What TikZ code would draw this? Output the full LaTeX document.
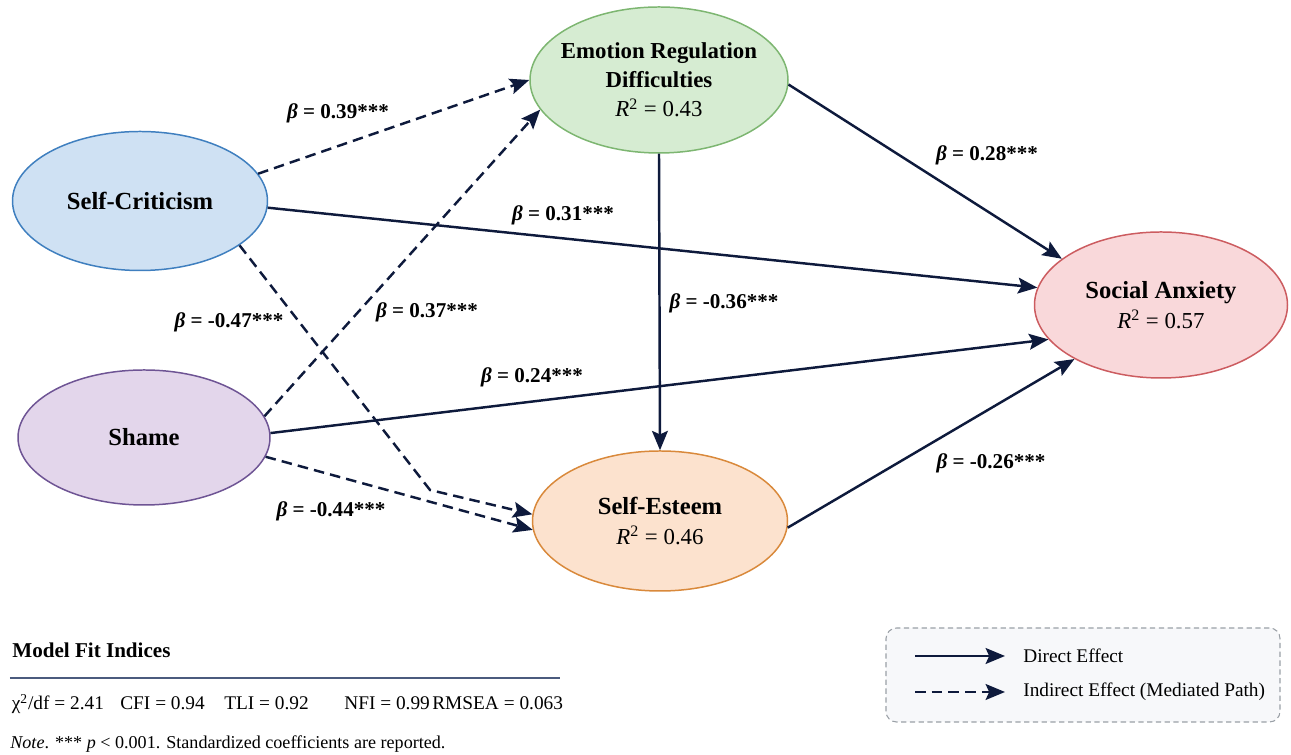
\documentclass[tikz,border=0pt]{standalone}
\usepackage{fontspec}
\setmainfont{Liberation Serif}
\usetikzlibrary{arrows.meta,shapes.geometric,positioning}
\definecolor{pathnavy}{HTML}{0E1A3C}
\definecolor{critfill}{HTML}{CFE1F3}
\definecolor{critline}{HTML}{3F7FBF}
\definecolor{shamefill}{HTML}{E3D6EB}
\definecolor{shameline}{HTML}{6E5494}
\definecolor{erdfill}{HTML}{D6ECD2}
\definecolor{erdline}{HTML}{7DB671}
\definecolor{esteemfill}{HTML}{FCE2CE}
\definecolor{esteemline}{HTML}{D9893B}
\definecolor{anxfill}{HTML}{F9D8DA}
\definecolor{anxline}{HTML}{CC5C60}
\definecolor{rulegray}{HTML}{4B5B7E}
\definecolor{legendfill}{HTML}{F7F8FA}
\definecolor{legendline}{HTML}{9AA0A6}
\newcommand{\rsq}[1]{{\mdseries\fontsize{13}{16}\selectfont\textit{R}\textsuperscript{2} = #1}}

\begin{document}
\begin{tikzpicture}[
    latent/.style 2 args={
      ellipse, draw=#1, fill=#2, line width=0.85pt, inner xsep=-1cm, inner ysep=0pt,
      align=center, text=black, font=\fontsize{14}{17}\selectfont\bfseries,
    },
    direct/.style={-{Stealth[length=11pt,width=9pt,inset=2pt]}, line width=1.4pt, pathnavy},
    indirect/.style={direct, dash pattern=on 6pt off 3.5pt},
    coef/.style={font=\fontsize{12}{14}\selectfont\bfseries, text=black},
    legtext/.style={font=\fontsize{11}{13}\selectfont, inner sep=0pt, anchor=west},
    fittext/.style={font=\fontsize{11}{13}\selectfont, inner sep=0pt, anchor=base west},
  ]
  \useasboundingbox (0,0) rectangle (25.82,15.10);

  % =================== LATENT VARIABLES ===================
  \node[latent={critline}{critfill}, minimum width=5.10cm, minimum height=2.78cm] (crit) at (2.80,11.08) {Self-Criticism};
  \node[latent={shameline}{shamefill}, minimum width=5.04cm, minimum height=2.70cm] (shame) at (2.88,6.35) {Shame};
  \node[latent={erdline}{erdfill}, minimum width=5.16cm, minimum height=2.92cm,
        font=\fontsize{13}{16.5}\selectfont\bfseries] (erd) at (13.18,13.50)
    {Emotion Regulation\\Difficulties\\\rsq{0.43}};
  \node[latent={esteemline}{esteemfill}, minimum width=5.10cm, minimum height=2.80cm] (esteem) at (13.20,4.68)
    {Self-Esteem\\\rsq{0.46}};
  \node[latent={anxline}{anxfill}, minimum width=5.06cm, minimum height=2.92cm] (anx) at (23.22,9.00)
    {Social Anxiety\\\rsq{0.57}};

  % =================== PATHS ===================
  \draw[indirect] (crit.13) -- (erd.180);
  \draw[direct] (crit.-3) -- (anx.172);
  \coordinate (critbend) at (8.60,5.30);
  \draw[indirect] (crit.-24) -- (critbend) -- (esteem.177);
  \draw[indirect] (shame.10) -- (erd.194);
  \draw[direct] (shame.2) -- (anx.197);
  \draw[indirect] (shame.-9) -- (esteem.184);
  \draw[direct] (erd.south) -- (esteem.north);
  \draw[direct] (erd.-2) -- (anx.155);
  \draw[direct] (esteem.-3) -- (anx.212);

  % Coefficients
  \node[coef] (b1) at (6.76,12.84) {\textit{β} = 0.39***};
  \node[coef] (b2) at (11.26,10.80) {\textit{β} = 0.31***};
  \node[coef] (b3) at (4.58,8.66) {\textit{β} = -0.47***};
  \node[coef] (b4) at (8.54,8.86) {\textit{β} = 0.37***};
  \node[coef] (b5) at (10.64,7.56) {\textit{β} = 0.24***};
  \node[coef] (b6) at (6.62,4.88) {\textit{β} = -0.44***};
  \node[coef] (b7) at (14.48,9.04) {\textit{β} = -0.36***};
  \node[coef] (b8) at (19.74,12.00) {\textit{β} = 0.28***};
  \node[coef] (b9) at (19.82,5.84) {\textit{β} = -0.26***};

  % =================== MODEL FIT ===================
  \node[fittext, font=\fontsize{12}{14}\selectfont\bfseries] (fittitle) at (0.24,1.94) {Model Fit Indices};
  \draw[rulegray, line width=0.7pt] (0.20,1.54) -- (11.20,1.54);
  \node[fittext] (chisq) at (0.23,0.90) {χ\textsuperscript{2}/df = 2.41};
  \node[fittext] (cfi) at (2.40,0.90) {CFI = 0.94};
  \node[fittext] (tli) at (4.48,0.90) {TLI = 0.92};
  \node[fittext] (nfi) at (6.88,0.90) {NFI = 0.99};
  \node[fittext] (rmsea) at (8.64,0.90) {RMSEA = 0.063};
  \node[fittext, font=\fontsize{10.3}{12}\selectfont] (note) at (0.20,0.12)
    {\textit{Note}. *** \textit{p} < 0.001. Standardized coefficients are reported.};

  % =================== LEGEND ===================
  \node[draw=legendline, fill=legendfill, line width=0.6pt, dash pattern=on 3pt off 2pt, rounded corners=6pt,
        minimum width=7.88cm, minimum height=1.88cm] (legend) at (21.66,1.60) {};
  \node[legtext] (legdirect) at (20.46,1.98) {Direct Effect};
  \node[legtext] (legindirect) at (20.46,1.26) {Indirect Effect (Mediated Path)};
  \coordinate (ldstart) at (18.30,1.98);
  \coordinate (listart) at (18.30,1.26);
  \draw[direct] (ldstart) -- ([xshift=-0.36cm]legdirect.west);
  \draw[indirect] (listart) -- ([xshift=-0.36cm]legindirect.west);

\end{tikzpicture}
\end{document}
